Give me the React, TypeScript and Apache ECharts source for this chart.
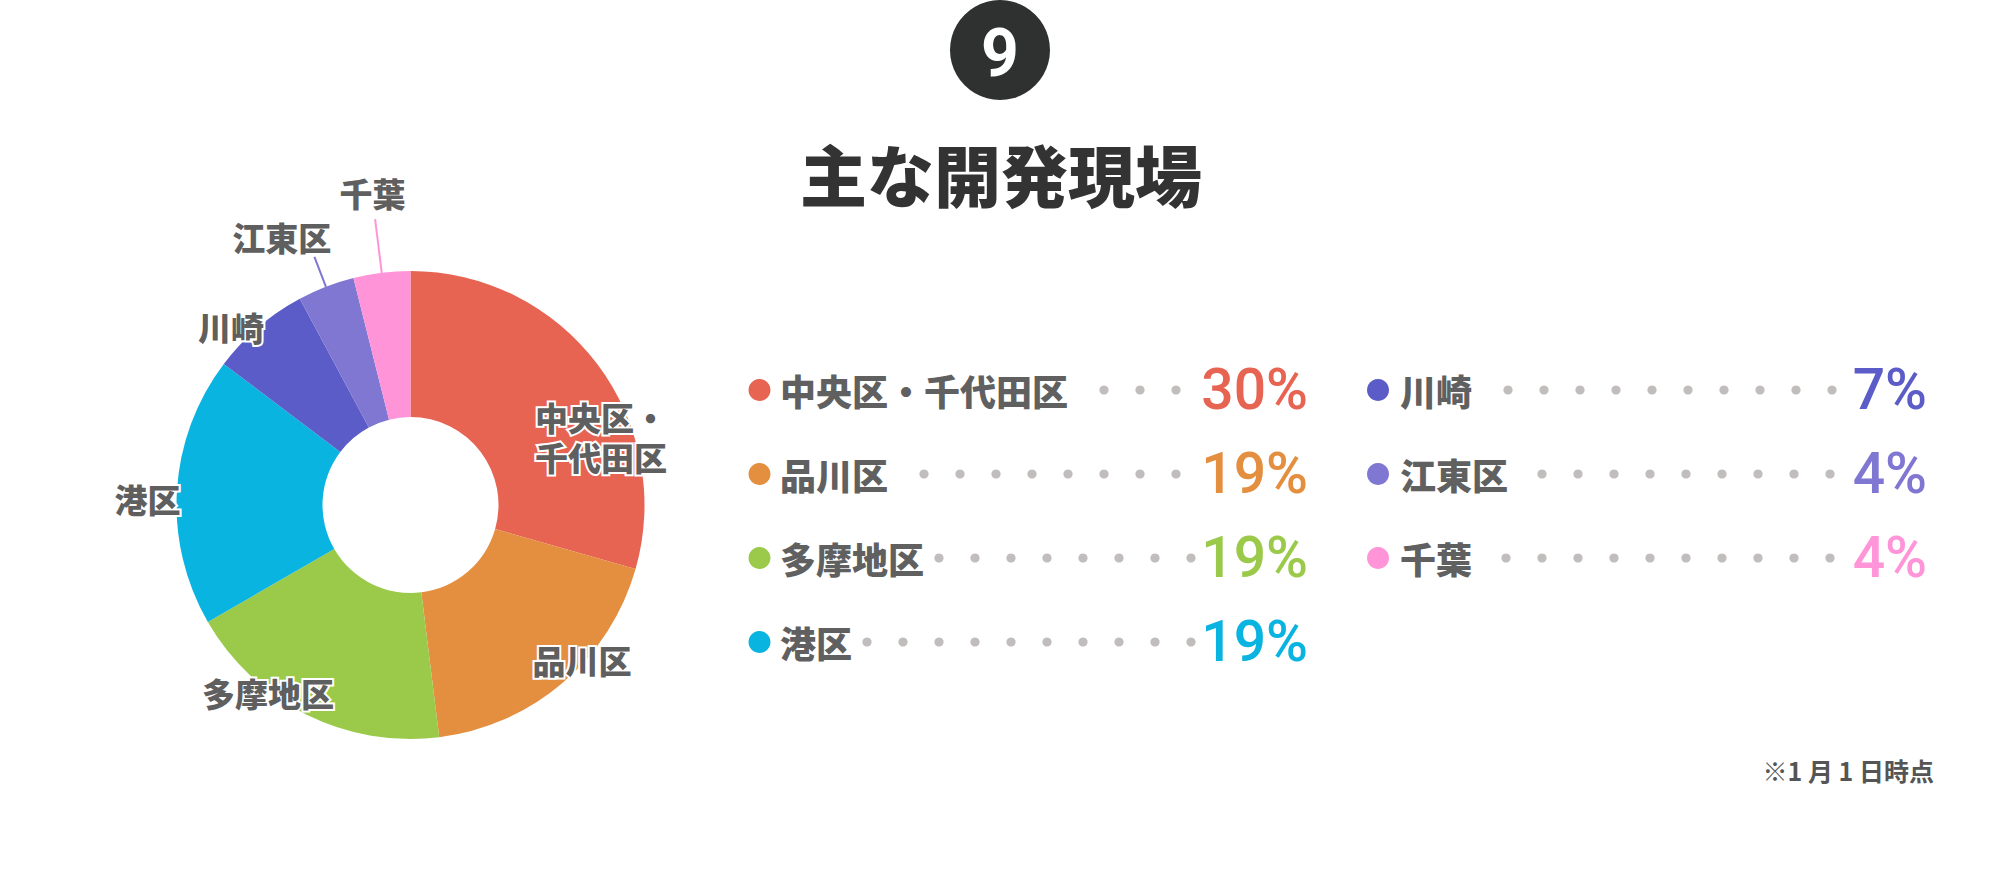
import React, { useEffect, useRef } from "react";
import * as echarts from "echarts";

// ---- data ----
const CATEGORIES = ["中央区・千代田区", "品川区", "多摩地区", "港区", "川崎", "江東区", "千葉"];
const SHARES = [30, 19, 19, 19, 7, 4, 4];
const COLORS = ["#E76452", "#E48E3F", "#9BCA4B", "#0AB4E0", "#5B5CC8", "#7F77D2", "#FF94D8"];
const TITLE = "主な開発現場";
const BADGE = "9";
const NOTE = "※1 月 1 日時点";

// ---- layout (styles / positions, not data) ----
const PIE_CENTER = [410.5, 505];
const PIE_RADIUS = [88, 234];
// label anchor offsets from pie centre (px)
const LABEL_OFFSETS = [
  [190.5, -68],
  [171.5, 155],
  [-142.5, 188],
  [-263, -6.5],
  [-179.5, -178],
  [-128.8, -268.3],
  [-38, -312],
];
const LABEL_LINE_LEN = [0, 0, 0, 0, 0, 32, 54];

const LEGEND_COLS = [
  { markerX: 759.5, textX: 780, pctRight: 1308 },
  { markerX: 1378, textX: 1400, pctRight: 1927 },
];
const ROW_Y = [390, 474, 558, 642];
const ROWS_PER_COL = 4;
const DOT_END = [1176, 1176, 1191, 1191, 1832, 1830, 1830];
const NAME_FS = 36;
const DOT_STEP = 36;

const CJK = "'Noto Sans CJK JP', 'Noto Sans CJK SC', sans-serif";
const NUM = "Roboto, 'Noto Sans', sans-serif";

function buildGraphic() {
  const els: any[] = [];
  // badge
  els.push({
    type: "circle",
    shape: { cx: 1000, cy: 50, r: 50 },
    style: { fill: "#2F3131" },
  });
  els.push({
    type: "text",
    x: 1000,
    y: 53,
    style: {
      text: BADGE,
      fill: "#fff",
      fontSize: 66,
      fontWeight: "bold",
      fontFamily: NUM,
      align: "center",
      verticalAlign: "middle",
      textAlign: "center",
      textVerticalAlign: "middle",
    },
  });
  // title
  els.push({
    type: "text",
    x: 1001,
    y: 172,
    style: {
      text: TITLE,
      fill: "#333333",
      fontSize: 67,
      fontWeight: 900,
      fontFamily: CJK,
      align: "center",
      verticalAlign: "middle",
      textAlign: "center",
      textVerticalAlign: "middle",
    },
  });
  // legend
  CATEGORIES.forEach((name, i) => {
    const col = LEGEND_COLS[Math.floor(i / ROWS_PER_COL)];
    const y = ROW_Y[i % ROWS_PER_COL];
    els.push({
      type: "circle",
      shape: { cx: col.markerX, cy: y, r: 11 },
      style: { fill: COLORS[i] },
    });
    els.push({
      type: "text",
      x: col.textX,
      y: y,
      style: {
        text: name,
        fill: "#606060",
        fontSize: NAME_FS,
        fontWeight: 900,
        fontFamily: CJK,
        align: "left",
        verticalAlign: "middle",
        textAlign: "left",
        textVerticalAlign: "middle",
      },
    });
    const nameEnd = col.textX + name.length * NAME_FS;
    for (let x = DOT_END[i]; x >= nameEnd + 14; x -= DOT_STEP) {
      els.push({
        type: "circle",
        shape: { cx: x, cy: y, r: 4.6 },
        style: { fill: "#C2BDBD" },
      });
    }
    els.push({
      type: "text",
      x: col.pctRight,
      y: y - 1,
      style: {
        text: SHARES[i] + "%",
        fill: COLORS[i],
        fontSize: 57,
        fontWeight: 500,
        fontFamily: NUM,
        align: "right",
        verticalAlign: "middle",
        textAlign: "right",
        textVerticalAlign: "middle",
      },
    });
  });
  // note
  els.push({
    type: "text",
    x: 1934,
    y: 770,
    style: {
      text: NOTE,
      fill: "#555555",
      fontSize: 25,
      fontWeight: "bold",
      fontFamily: CJK,
      align: "right",
      verticalAlign: "middle",
      textAlign: "right",
      textVerticalAlign: "middle",
    },
  });
  return els;
}

export default function App() {
  const ref = useRef<HTMLDivElement>(null);
  useEffect(() => {
    if (!ref.current) return;
    const chart = echarts.init(ref.current, undefined, { renderer: "svg" });
    const option: any = {
      animation: false,
      backgroundColor: "#ffffff",
      textStyle: { fontFamily: CJK },
      series: [
        {
          type: "pie",
          center: PIE_CENTER,
          radius: PIE_RADIUS,
          startAngle: 90,
          clockwise: true,
          avoidLabelOverlap: false,
          minShowLabelAngle: 0,
          silent: true,
          label: {
            show: true,
            position: "outside",
            formatter: (p: any) => (p.name.includes("・") ? p.name.replace("・", "・\n") : p.name),
            color: "#5F5F5F",
            fontSize: 33,
            fontWeight: 900,
            fontFamily: CJK,
            lineHeight: 40,
            textBorderColor: "#ffffff",
            textBorderWidth: 4,
            align: "center",
          },
          labelLine: { show: false },
          labelLayout: (params: any) => {
            const off = LABEL_OFFSETS[params.dataIndex];
            const res: any = {
              x: PIE_CENTER[0] + off[0],
              y: PIE_CENTER[1] + off[1],
              align: "center",
              verticalAlign: "middle",
            };
            if (LABEL_LINE_LEN[params.dataIndex] > 0 && params.labelLinePoints) {
              const pts = params.labelLinePoints;
              res.labelLinePoints = [pts[0], pts[1], pts[1]];
            }
            return res;
          },
          data: CATEGORIES.map((name, i) => ({
            name,
            value: SHARES[i],
            itemStyle: { color: COLORS[i] },
            labelLine:
              LABEL_LINE_LEN[i] > 0
                ? { show: true, length: LABEL_LINE_LEN[i], length2: 0, smooth: false, lineStyle: { color: COLORS[i], width: 2 } }
                : { show: false },
          })),
        },
      ],
      graphic: buildGraphic(),
    };
    chart.setOption(option);
    return () => chart.dispose();
  }, []);
  return (
    <div
      ref={ref}
      style={{ position: "absolute", left: 0, top: 0, width: 2000, height: 892 }}
    />
  );
}
